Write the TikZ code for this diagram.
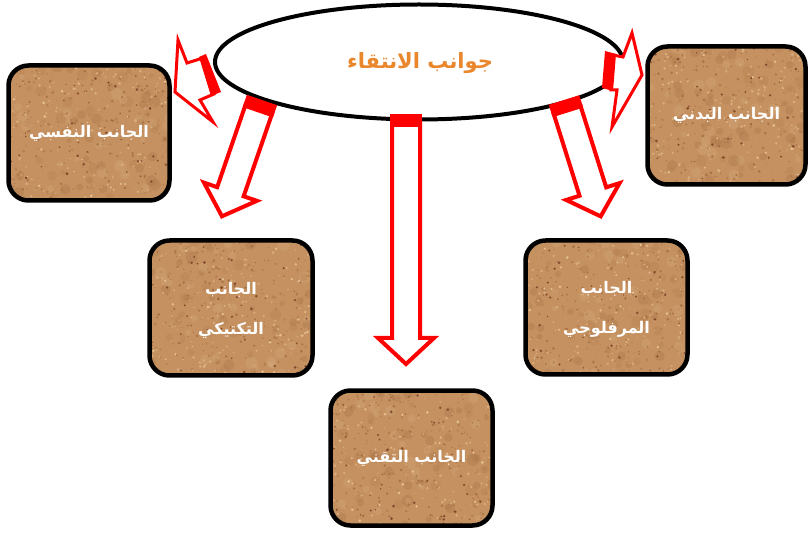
\documentclass[tikz,border=0pt]{standalone}
\usepackage{fontspec}
\usetikzlibrary{shapes.geometric,calc}
\newfontfamily\arabicfont[Script=Arabic]{DejaVu Sans}
\TeXXeTstate=1

\definecolor{arrowred}{RGB}{255,0,0}
\definecolor{titleorange}{RGB}{234,135,45}
\definecolor{sandbase}{RGB}{197,145,96}
\definecolor{sandA}{RGB}{158,104,62}
\definecolor{sandB}{RGB}{224,184,138}
\definecolor{sandC}{RGB}{112,52,30}
\definecolor{sandD}{RGB}{240,208,166}
\definecolor{sandE}{RGB}{176,120,74}

\pgfmathdeclarerandomlist{specks}{{sandA}{sandB}{sandC}{sandD}{sandE}{sandB}{sandA}{sandE}}
\pgfmathdeclarerandomlist{blotches}{{sandA}{sandB}{sandE}}

% cork-like grain painted inside a node's border
\newcommand\sandgrain{%
  \foreach \k in {1,...,110}{%
    \pgfmathsetmacro\gx{rnd*180}\pgfmathsetmacro\gy{rnd*155}\pgfmathsetmacro\gr{2.5+rnd*3.5}%
    \pgfmathrandomitem\gc{blotches}%
    \fill[\gc,opacity=.22] ([shift={(\gx pt,\gy pt)}]path picture bounding box.south west) circle[radius=\gr pt];}%
  \foreach \k in {1,...,520}{%
    \pgfmathsetmacro\gx{rnd*180}\pgfmathsetmacro\gy{rnd*155}\pgfmathsetmacro\gr{.5+rnd*1.0}%
    \pgfmathrandomitem\gc{specks}%
    \fill[\gc,opacity=.75] ([shift={(\gx pt,\gy pt)}]path picture bounding box.south west) circle[radius=\gr pt];}%
}

% hollow block arrow with a solid cap, pointing along local +y
\newcommand\blockarrow[3]{%
  \begin{scope}[shift={(#1)},rotate=#2]
    \draw[arrowred,line width=4pt,fill=white,line join=miter]
      (-14,10) -- (-14,#3-26) -- (-28,#3-26) -- (0,#3) -- (28,#3-26) -- (14,#3-26) -- (14,10) -- cycle;
    \fill[arrowred] (-16,0) rectangle (16,13);
  \end{scope}}

\tikzset{
  sandbox/.style={draw=black, line width=4.5pt, rounded corners=20pt, fill=sandbase,
    minimum width=161pt, minimum height=135pt, inner sep=0pt, text=white, align=center,
    font=\arabicfont\bfseries\fontsize{16}{40}\selectfont, path picture={\sandgrain}},
  titletext/.style={font=\arabicfont\bfseries\fontsize{21}{24}\selectfont, inner sep=0pt},
  sidearrow/.style={draw=arrowred, line width=3pt, fill=white, line join=miter},
}

\begin{document}
\begin{tikzpicture}[x=1pt,y=-1pt]
  \pgfmathsetseed{4711}
  \useasboundingbox (0,0) rectangle (811,534);
  \fill[white] (0,0) rectangle (811,534);

  \node[ellipse, draw=black, line width=4pt, minimum width=408pt, minimum height=115pt,
        inner sep=0pt] (sel) at (419,62) {};
  \node[titletext, text=titleorange] (title) at (420,63) {\beginR جوانب الانتقاء\endR};

  % the five aspects
  \node[sandbox] (psy)  at (89,133)    {\beginR الجانب النفسي\endR};
  \node[sandbox, minimum width=158pt, minimum height=138pt] (phys) at (726.5,115.5) {\beginR الجانب البدني\endR};
  \node[sandbox, minimum width=163pt, text depth=0pt] (tact) at (231,308)   {\beginR الجانب\endR\\\beginR التكتيكي\endR};
  \node[sandbox, minimum width=162pt, minimum height=134pt, text depth=0pt] (morph) at (606.5,307.5) {\beginR الجانب\endR\\\beginR المرفلوجي\endR};
  \node[sandbox, minimum width=162pt] (tech) at (411.5,458) {\beginR الجانب التقني\endR};

  % arrow roots on the ellipse
  \coordinate (rootTech)  at (406,114);
  \coordinate (rootTact)  at (262,100);
  \coordinate (rootMorph) at (564,100);

  \blockarrow{rootTech}{0}{250}
  \blockarrow{rootTact}{-19}{123}
  \blockarrow{rootMorph}{17.5}{122}

  % short arrows towards the side boxes
  \draw[sidearrow] (203,58) -- (187,63) -- (178,40) -- (175,92) -- (213,122) -- (200,100) -- (214,94) -- cycle;
  \fill[arrowred] (199,57) -- (206,54) -- (221,92) -- (211,96) -- cycle;
  \draw[sidearrow] (613,55) -- (623,57) -- (632,33) -- (642,75) -- (612,127) -- (617,90) -- (611,90) -- cycle;
  \fill[arrowred] (605,51) -- (616,54) -- (613,91) -- (602,88) -- cycle;
\end{tikzpicture}
\end{document}
